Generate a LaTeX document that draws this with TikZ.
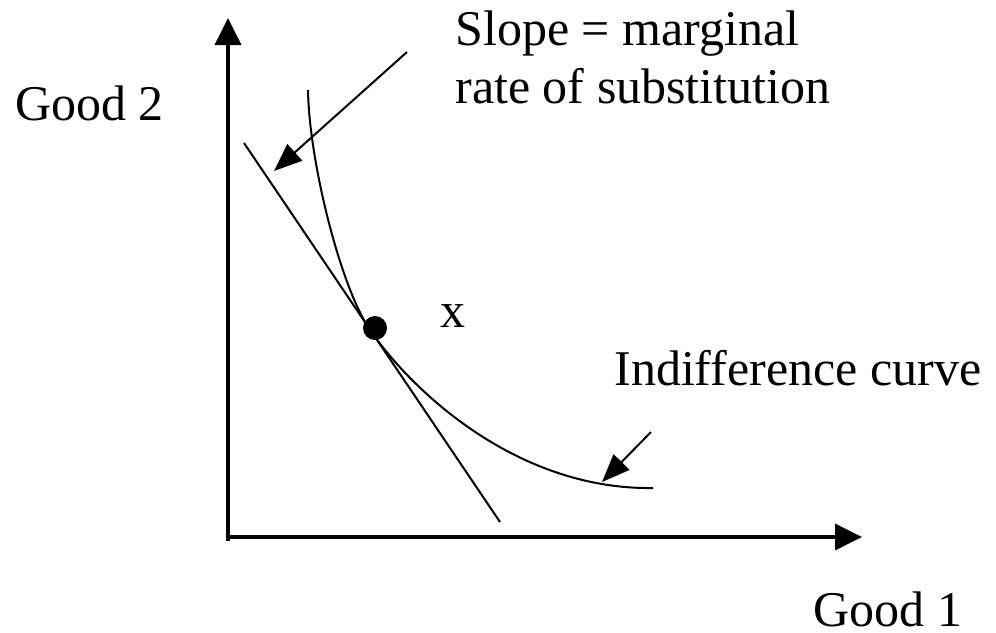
\documentclass[tikz,border=0pt]{standalone}
\usepackage{fontspec}
\setmainfont{Liberation Serif}
\usetikzlibrary{arrows.meta}
\begin{document}
\begin{tikzpicture}[x=0.5pt,y=-0.5pt,
  axis/.style={line width=1.9pt,-{Triangle[length=13.5pt,width=13pt]}},
  tanline/.style={line width=1pt},
  curveline/.style={line width=1pt},
  pointer/.style={line width=1pt,-{Triangle[length=14pt,width=11pt]}},
  lbl/.style={anchor=base west,inner sep=0pt,font=\fontsize{25}{29}\selectfont}]
\useasboundingbox (0,0) rectangle (996,632);
% axes
\coordinate (Ystart) at (228,541);
\coordinate (Ytop) at (228,18);
\coordinate (Xstart) at (226,537);
\coordinate (Xend) at (862,537);
\draw[axis] (Ystart) -- (Ytop);
\draw[axis] (Xstart) -- (Xend);
% tangent line
\coordinate (T1) at (244,143);
\coordinate (T2) at (500,522);
\draw[tanline] (T1) -- (T2);
% indifference curve
\coordinate (C0) at (308,90);
\coordinate (CT) at (370,330);
\coordinate (C1) at (653,488);
\draw[curveline] (C0) .. controls (309,160) and (340,286) .. (CT)
                      .. controls (415,395) and (520,490) .. (C1);
% point
\node[circle,fill=black,minimum size=12pt,inner sep=0pt] (dot) at (375,328) {};
% pointers
\coordinate (S1) at (407,52);
\coordinate (S2) at (274,171);
\draw[pointer] (S1) -- (S2);
\coordinate (I1) at (651,432);
\coordinate (I2) at (602,482);
\draw[pointer] (I1) -- (I2);
% labels
\node[lbl] (good2) at (15,120) {Good 2};
\node[lbl] (slope1) at (455,45) {Slope = marginal};
\node[lbl] (slope2) at (455,103) {rate of substitution};
\node[lbl] (xlabel) at (440,327) {x};
\node[lbl] (indiff) at (614,385) {Indifference curve};
\node[lbl,text depth=0pt] (good1) at (813,626) {Good 1};
\end{tikzpicture}
\end{document}
